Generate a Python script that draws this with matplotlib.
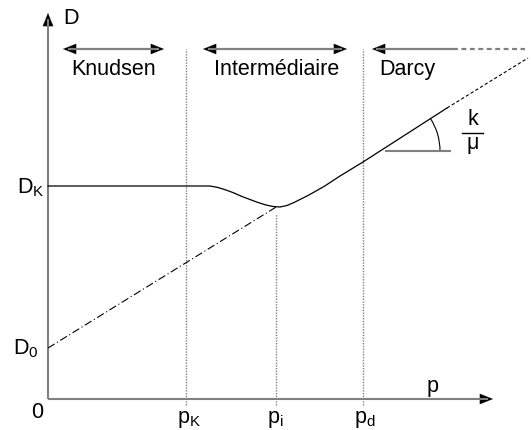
import numpy as np
import matplotlib
matplotlib.use("Agg")
import matplotlib.pyplot as plt
from matplotlib.patches import Arc, FancyArrowPatch

plt.rcParams['font.family'] = ['Liberation Sans', 'DejaVu Sans']
plt.rcParams['mathtext.fontset'] = 'custom'
plt.rcParams['mathtext.rm'] = 'Liberation Sans'
plt.rcParams['mathtext.it'] = 'Liberation Sans'

# ---- data (schematic units) ----
D_K = 2.13
D_0 = 0.51
slope_lin = 0.618          # dash-dot asymptote D0 + slope*p
p_marks = [1.38, 2.28, 3.15]
p_labels = [r'$\mathrm{p_K}$', r'$\mathrm{p_i}$', r'$\mathrm{p_d}$']
regions = ['Knudsen', 'Intermédiaire', 'Darcy']

p_curve = [0.00, 1.62, 1.70, 1.78, 1.86, 1.94, 2.02, 2.10, 2.18, 2.25, 2.32, 2.39,
           2.46, 2.53, 2.60, 2.68, 2.76, 2.92, 3.15, 3.99]
D_curve = [2.13, 2.13, 2.115, 2.09, 2.06, 2.025, 1.995, 1.965, 1.94, 1.925, 1.92, 1.935,
           1.965, 2.00, 2.035, 2.08, 2.125, 2.23, 2.37, 2.91]
p_ext = [3.99, 4.80]
D_ext = [2.91, 3.41]
p_dd = [0.0, 2.28]

GREY = '#808080'
FS = 15.5

fig = plt.figure(figsize=(5.31, 4.30), dpi=100)
ax = fig.add_axes([0, 0, 1, 1])
ax.set_xlim(-0.48, 4.83)
ax.set_ylim(-0.31, 3.99)
ax.axis('off')

def head(x0, y0, x1, y1):
    a = FancyArrowPatch((x0, y0), (x1, y1), arrowstyle='-|>,head_length=0.55,head_width=0.22',
                        mutation_scale=17, color='black', lw=0.1, shrinkA=0, shrinkB=0)
    ax.add_patch(a)

# axes
ax.plot([0, 4.40], [0, 0], color=GREY, lw=1.5, solid_capstyle='butt')
ax.plot([0, 0], [0, 3.80], color=GREY, lw=1.5, solid_capstyle='butt')
head(4.36, 0, 4.45, 0)
head(0, 3.77, 0, 3.86)

# vertical dotted lines
ax.plot([p_marks[0]] * 2, [-0.06, 3.50], color=GREY, lw=1.0, ls=(0, (1, 1)))
ax.plot([p_marks[1]] * 2, [-0.06, 1.85], color=GREY, lw=1.0, ls=(0, (1, 1)))
ax.plot([p_marks[2]] * 2, [-0.06, 3.50], color=GREY, lw=1.0, ls=(0, (1, 1)))

# dash-dot asymptote
pdd = np.array(p_dd)
ax.plot(pdd, D_0 + slope_lin * pdd, color='black', lw=0.8, ls=(0, (7, 2.5, 1, 2.5)))

# main curve
ax.plot(p_curve, D_curve, color='black', lw=0.9, solid_joinstyle='round')
ax.plot(p_ext, D_ext, color='black', lw=0.8, ls=(0, (3, 2)))

# region arrows
ya = 3.50
ax.plot([0.20, 1.11], [ya, ya], color=GREY, lw=1.6, solid_capstyle='butt')
head(0.22, ya, 0.15, ya); head(1.09, ya, 1.16, ya)
ax.plot([1.60, 2.94], [ya, ya], color=GREY, lw=1.6, solid_capstyle='butt')
head(1.62, ya, 1.55, ya); head(2.92, ya, 2.99, ya)
ax.plot([3.28, 4.05], [ya, ya], color=GREY, lw=1.6, solid_capstyle='butt')
ax.plot([4.05, 4.77], [ya, ya], color=GREY, lw=1.6, ls=(0, (2.2, 1.6)))
head(3.31, ya, 3.24, ya)

ax.text(0.66, 3.24, regions[0], fontsize=FS, ha='center', va='baseline')
ax.text(2.29, 3.24, regions[1], fontsize=FS, ha='center', va='baseline')
ax.text(3.59, 3.24, regions[2], fontsize=FS, ha='center', va='baseline')

# slope indicator
ax.plot([3.37, 4.03], [2.48, 2.48], color=GREY, lw=1.5, solid_capstyle='butt')
ax.add_patch(Arc((3.32, 2.48), 1.20, 1.20, theta1=0, theta2=33, color='black', lw=0.8))
ax.text(4.245, 2.74, 'k', fontsize=FS, ha='center', va='baseline')
ax.plot([4.14, 4.35], [2.66, 2.66], color='black', lw=1.0)
ax.text(4.245, 2.50, 'μ', fontsize=FS, ha='center', va='baseline')

# axis labels
ax.text(0.15, 3.75, 'D', fontsize=FS, ha='left', va='baseline')
ax.text(-0.31, 2.06, r'$\mathrm{D_K}$', fontsize=FS, ha='left', va='baseline')
ax.text(-0.35, 0.45, r'$\mathrm{D_0}$', fontsize=FS, ha='left', va='baseline')
ax.text(-0.11, -0.19, '0', fontsize=FS, ha='center', va='baseline')
ax.text(3.85, 0.07, 'p', fontsize=FS, ha='center', va='baseline')
for pm, lab, dx in zip(p_marks, p_labels, [-0.09, -0.09, -0.09]):
    ax.text(pm + dx, -0.24, lab, fontsize=FS, ha='left', va='baseline')

fig.savefig('out.png', dpi=100)
